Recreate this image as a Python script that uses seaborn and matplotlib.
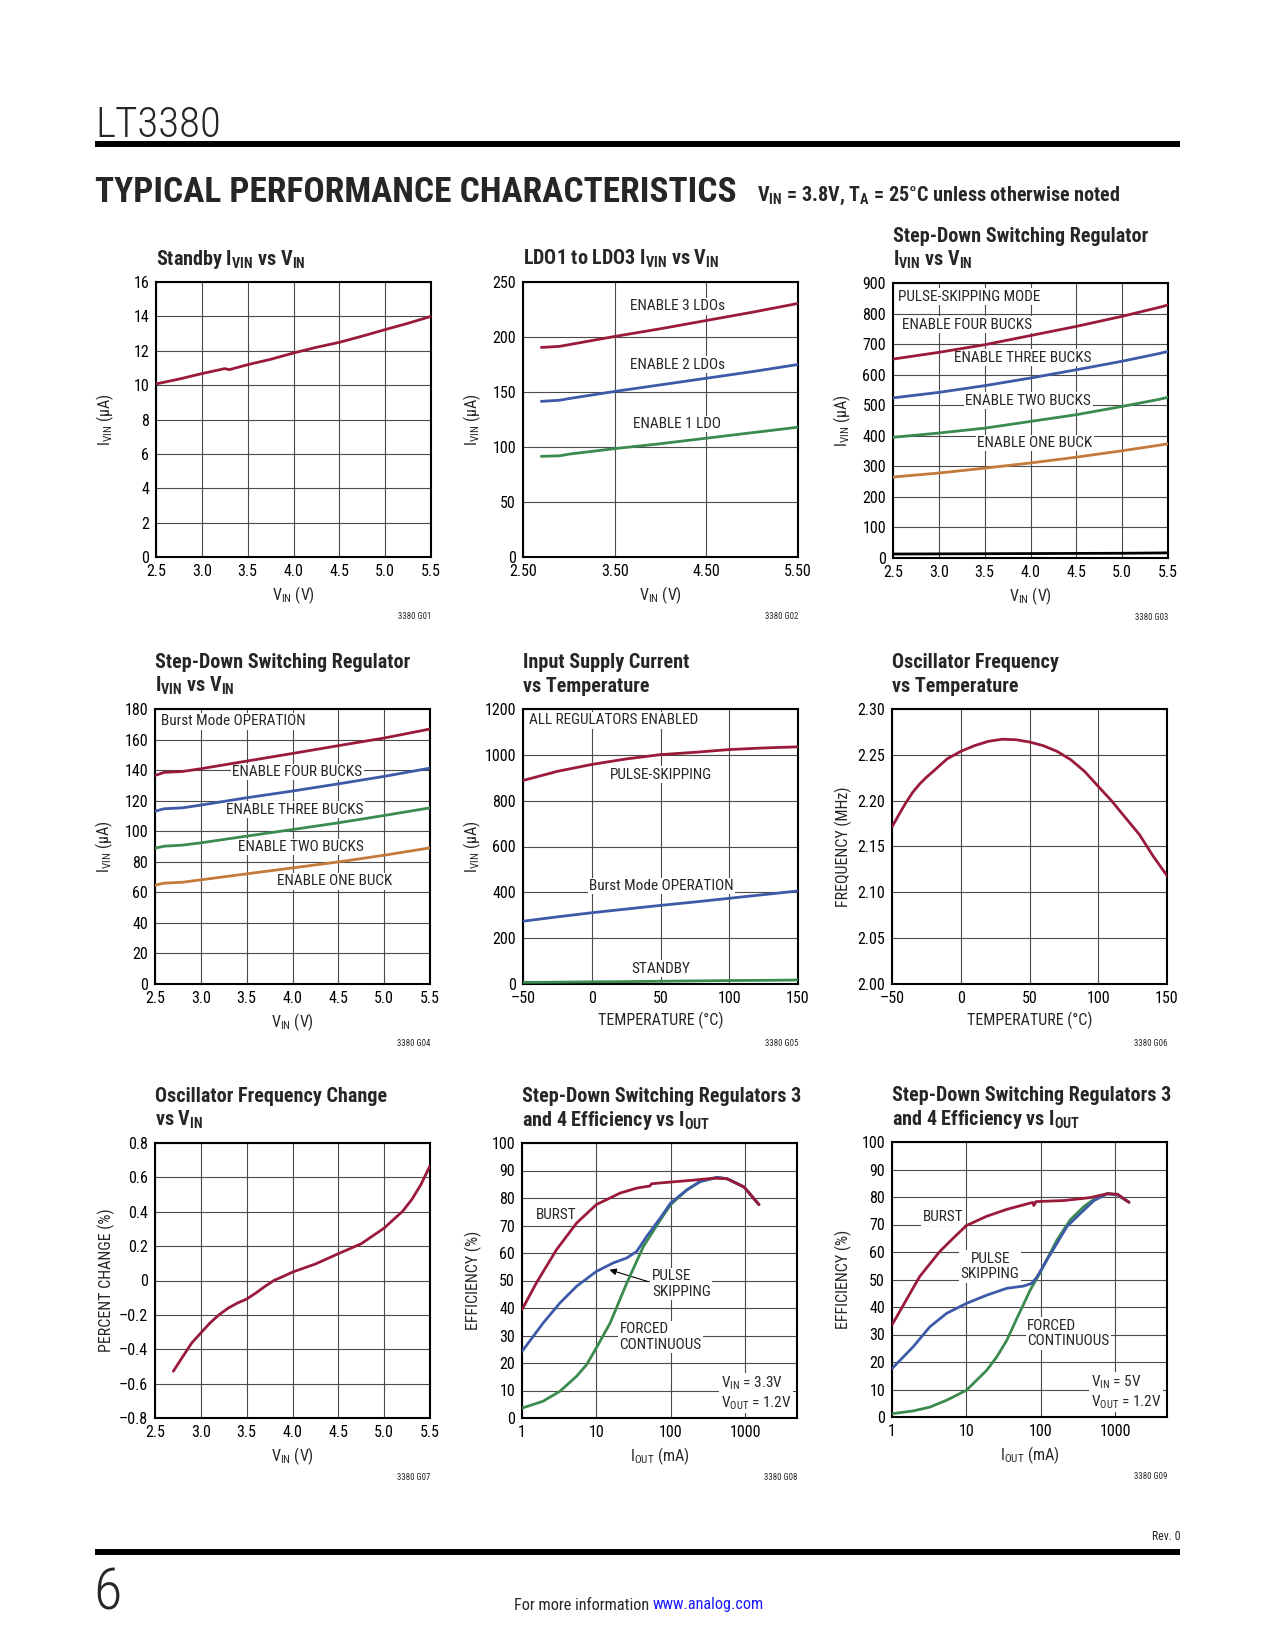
import numpy as np
import matplotlib
matplotlib.use('Agg')
import matplotlib.pyplot as plt
import seaborn as sns
from matplotlib.patches import Rectangle

# ---- data ----
# G01 standby current
g01_vin = [2.5, 2.75, 3.0, 3.25, 3.3, 3.5, 3.75, 4.0, 4.25, 4.5, 4.75, 5.0, 5.25, 5.5]
g01_ivin = [10.07, 10.35, 10.67, 10.96, 10.9, 11.19, 11.5, 11.87, 12.2, 12.49, 12.85, 13.23, 13.6, 14.0]

# G02 LDO current
g02_vin = [2.7, 2.9, 3.0, 3.5, 4.0, 4.5, 5.0, 5.5]
g02_three = [190.5, 191.5, 193, 200.5, 207.5, 215, 222.5, 230.5]
g02_two = [141.5, 142.5, 144, 150.5, 156.5, 162.5, 168.5, 175]
g02_one = [91.5, 92, 93.5, 98.5, 103, 108, 113, 118]

# G03 buck current, pulse-skipping
g03_vin = [2.5, 3.0, 3.5, 4.0, 4.5, 5.0, 5.4, 5.5]
g03_four = [651, 673, 698, 728, 758, 791, 820, 828]
g03_three = [524, 542, 564, 589, 616, 644, 669, 676]
g03_two = [395, 409, 425, 447, 469, 496, 519, 526]
g03_one = [265, 278, 294, 311, 330, 351, 369, 374]
g03_off = [13, 13.5, 14, 14.5, 15, 15.5, 16.5, 17]

# G04 buck current, Burst Mode
g04_vin = [2.5, 2.6, 2.8, 3.0, 3.5, 4.0, 4.5, 5.0, 5.5]
g04_four = [136.5, 138.5, 139.1, 140.9, 145.9, 150.9, 156, 161, 166.9]
g04_three = [113.1, 114.7, 115.3, 117.1, 121.9, 126.3, 131, 135.9, 141.3]
g04_two = [88.9, 90.2, 90.9, 92.4, 96.8, 101.1, 105.5, 110.3, 115.3]
g04_one = [64.7, 66, 66.6, 68.2, 72.1, 76, 79.9, 84.3, 89.1]

# G05 input supply current vs temperature
g05_temp = [-50, -25, 0, 25, 50, 75, 100, 125, 150]
g05_pulse = [888, 928, 958, 982, 1001, 1011, 1023, 1030, 1035]
g05_burst = [274, 293, 311, 327, 343, 358, 374, 390, 406]
g05_standby = [7, 8, 9.5, 10.5, 12, 13.5, 15, 16, 17.5]

# G06 oscillator frequency vs temperature
g06_temp = [-50, -45, -40, -35, -30, -25, -20, -10, 0, 10, 20, 30, 40, 50, 60, 70, 80, 90, 100, 110, 120, 130, 140, 150]
g06_freq = [2.1713, 2.1847, 2.1975, 2.209, 2.218, 2.2255, 2.232, 2.2455, 2.2538, 2.26, 2.2647, 2.267,
            2.2665, 2.264, 2.26, 2.2538, 2.2447, 2.232, 2.2156, 2.1993, 2.181, 2.1629, 2.1393, 2.1182]

# G07 oscillator frequency change vs VIN
g07_vin = [2.7, 2.8, 2.9, 3.0, 3.1, 3.2, 3.3, 3.4, 3.5, 3.6, 3.7, 3.8, 3.9, 4.0, 4.25, 4.5, 4.75, 5.0, 5.1, 5.2, 5.3, 5.4, 5.5]
g07_change = [-0.528, -0.445, -0.364, -0.305, -0.247, -0.199, -0.16, -0.131, -0.108, -0.073, -0.034, 0.001,
              0.024, 0.049, 0.096, 0.156, 0.214, 0.305, 0.354, 0.402, 0.47, 0.557, 0.668]

# G08 efficiency, VIN = 3.3V
g08_burst_i = [1.0, 1.56, 2.91, 5.43, 10, 20.9, 35, 47.7, 52, 55.7, 100, 204, 380, 575, 970, 1540]
g08_burst_e = [39.4, 49.1, 61.2, 70.9, 77.6, 81.8, 83.6, 84.2, 84.3, 85.2, 85.8, 86.5, 87.2, 87.0, 84.0, 77.6]
g08_pulse_i = [1.0, 1.92, 3.23, 5.43, 10, 16.9, 25.7, 35, 47.7, 72.4, 100, 166, 250, 420, 575, 970, 1540]
g08_pulse_e = [24.2, 34.5, 41.8, 47.9, 53.3, 56.4, 58.2, 60.6, 66.1, 72.7, 78.2, 83, 86, 87.5, 87.0, 84.0, 77.6]
g08_forced_i = [1.0, 1.92, 3.23, 5.43, 7.4, 10, 15.3, 25.7, 43, 72.4, 100, 166, 250, 420, 575, 970, 1540]
g08_forced_e = [3.6, 6.1, 9.7, 15.2, 19.4, 25.5, 34.5, 49.1, 62.4, 72, 77.6, 83, 86, 87.5, 87.0, 84.0, 77.6]

# G09 efficiency, VIN = 5V
g09_burst_i = [1.0, 1.56, 2.36, 4.4, 6.7, 10, 18.8, 35, 72.4, 78, 81, 86, 100, 204, 469, 790, 1080, 1540]
g09_burst_e = [33.5, 42.6, 51.1, 60.2, 65.1, 69.6, 73, 75.5, 77.8, 78.0, 76.9, 78.3, 78.4, 78.7, 79.8, 81.2, 81.0, 78.1]
g09_pulse_i = [1.0, 1.92, 3.23, 5.43, 10, 18.8, 35, 58.6, 76, 89.5, 121, 166, 226, 344, 520, 790, 1080, 1540]
g09_pulse_e = [17.6, 25.5, 32.8, 37.7, 41.3, 44.3, 46.8, 47.6, 48.6, 51, 57.1, 63.2, 69.3, 74.1, 78.7, 81.2, 80.8, 78.1]
g09_forced_i = [1.0, 1.92, 3.23, 5.43, 10, 18.8, 25.7, 35, 47.7, 72.4, 100, 166, 250, 380, 575, 790, 1080, 1540]
g09_forced_e = [1.2, 2.2, 3.6, 6.1, 9.7, 17, 21.9, 27.9, 35.8, 46.2, 52.9, 64.4, 71.7, 76.5, 80, 81.2, 80.8, 78.1]

# tick labels
vin_ticks = [2.5, 3.0, 3.5, 4.0, 4.5, 5.0, 5.5]
vin_labels = ['2.5', '3.0', '3.5', '4.0', '4.5', '5.0', '5.5']
ldo_ticks = [2.5, 3.5, 4.5, 5.5]
ldo_labels = ['2.50', '3.50', '4.50', '5.50']
temp_ticks = [-50, 0, 50, 100, 150]
temp_labels = ['\u201350', '0', '50', '100', '150']
freq_ticks = [2.00, 2.05, 2.10, 2.15, 2.20, 2.25, 2.30]
freq_labels = ['2.00', '2.05', '2.10', '2.15', '2.20', '2.25', '2.30']
pct_ticks = [-0.8, -0.6, -0.4, -0.2, 0, 0.2, 0.4, 0.6, 0.8]
pct_labels = ['\u20130.8', '\u20130.6', '\u20130.4', '\u20130.2', '0', '0.2', '0.4', '0.6', '0.8']
iout_ticks = [1, 10, 100, 1000]
iout_labels = ['1', '10', '100', '1000']

RED = '#9a1a3c'
BLUE = '#3d5aa8'
GREEN = '#3b8a4e'
ORANGE = '#c47a3a'

sns.set_style('white')
plt.rcParams['font.family'] = ['Roboto Condensed', 'Liberation Sans Narrow', 'Liberation Sans', 'DejaVu Sans']

W, H = 1275, 1650
fig = plt.figure(figsize=(W / 100, H / 100), dpi=100)

TICK = 11.5
LAB = 11.5
INNER = 11


def px_axes(left, top, size=275):
    return fig.add_axes([left / W, 1 - (top + size) / H, size / W, size / H])


def px_text(x, y, s, **kw):
    fig.text(x / W, 1 - y / H, s, **kw)


def dress(ax, title, code, xlim, ylim, xt, xtl, yt, ytl, xlabel, ylabel, log=False):
    if log:
        ax.set_xscale('log')
    ax.set_xlim(xlim)
    ax.set_ylim(ylim)
    ax.set_xticks(xt)
    ax.set_xticklabels(xtl)
    ax.set_yticks(yt)
    ax.set_yticklabels(ytl)
    ax.minorticks_off()
    ax.grid(True, color='#4a4a4a', lw=0.8)
    ax.set_axisbelow(True)
    for sp in ax.spines.values():
        sp.set_visible(True)
        sp.set_color('black')
        sp.set_linewidth(1.5)
    ax.tick_params(length=0, labelsize=TICK, pad=5, colors='black')
    ax.set_xlabel(xlabel, fontsize=LAB)
    ax.set_ylabel(ylabel, fontsize=LAB)
    ax.xaxis.set_label_coords(0.5, -0.1)
    ax.yaxis.set_label_coords(-0.145, 0.5)
    ax.text(1, -0.218, code, transform=ax.transAxes, ha='right', va='center', fontsize=6.3)
    # title lines, last line baseline ~17px above the frame
    for k, line in enumerate(reversed(title)):
        ax.text(0, 1 + (17 + 24 * k) / 275, line, transform=ax.transAxes, ha='left',
                va='baseline', fontsize=14.5, fontweight='bold')


def label(ax, x, y, s, ha='left'):
    ax.text(x, y, s, ha=ha, va='center', fontsize=INNER, linespacing=1.15, zorder=3,
            bbox=dict(facecolor='white', edgecolor='none', pad=1.0))


def curve(ax, x, y, color):
    sns.lineplot(x=x, y=y, color=color, lw=2.0, ax=ax, zorder=4)


VIN = 'V$_{\\mathregular{IN}}$ (V)'
IVIN = 'I$_{\\mathregular{VIN}}$ (\u00b5A)'
IVIN_VIN = 'I$_{\\mathregular{VIN}}$ vs V$_{\\mathregular{IN}}$'
TEMP = 'TEMPERATURE (\u00b0C)'
IOUT = 'I$_{\\mathregular{OUT}}$ (mA)'

# ---- page furniture ----
px_text(95, 137, 'LT3380', fontsize=31, fontweight='light', va='baseline', ha='left')
fig.add_artist(Rectangle((95 / W, 1 - 147 / H), 1085 / W, 6 / H, transform=fig.transFigure,
                         color='black', lw=0))
px_text(95, 202, 'TYPICAL PERFORMANCE CHARACTERISTICS', fontsize=25.5, fontweight='heavy',
        va='baseline', ha='left')
px_text(757, 201, 'V$_{\\mathregular{IN}}$ = 3.8V, T$_{\\mathregular{A}}$ = 25\u00b0C unless otherwise noted',
        fontsize=14.5, fontweight='bold', va='baseline', ha='left')
px_text(1180, 1537, 'Rev. 0', fontsize=8.5, va='center', ha='right')
fig.add_artist(Rectangle((95 / W, 1 - 1555 / H), 1085 / W, 6 / H, transform=fig.transFigure,
                         color='black', lw=0))
px_text(93, 1609, '6', fontsize=42, fontweight='light', va='baseline', ha='left')
px_text(649, 1605, 'For more information', fontsize=11.7, va='center', ha='right')
px_text(653, 1605, 'www.analog.com', fontsize=11.7, va='center', ha='left', color='#1a1aff')

# ---- G01 ----
ax = px_axes(156, 282)
curve(ax, g01_vin, g01_ivin, RED)
dress(ax, ['Standby ' + IVIN_VIN], '3380 G01', (2.5, 5.5), (0, 16), vin_ticks, vin_labels,
      range(0, 17, 2), [str(v) for v in range(0, 17, 2)], VIN, IVIN)

# ---- G02 ----
ax = px_axes(523, 282)
curve(ax, g02_vin, g02_three, RED)
curve(ax, g02_vin, g02_two, BLUE)
curve(ax, g02_vin, g02_one, GREEN)
dress(ax, ['LDO1 to LDO3 ' + IVIN_VIN], '3380 G02', (2.5, 5.5), (0, 250), ldo_ticks, ldo_labels,
      range(0, 251, 50), [str(v) for v in range(0, 251, 50)], VIN, IVIN)
label(ax, 4.18, 228, 'ENABLE 3 LDOs', 'center')
label(ax, 4.18, 175, 'ENABLE 2 LDOs', 'center')
label(ax, 4.18, 121, 'ENABLE 1 LDO', 'center')

# ---- G03 ----
ax = px_axes(893, 283)
curve(ax, g03_vin, g03_four, RED)
curve(ax, g03_vin, g03_three, BLUE)
curve(ax, g03_vin, g03_two, GREEN)
curve(ax, g03_vin, g03_one, ORANGE)
curve(ax, g03_vin, g03_off, 'black')
dress(ax, ['Step-Down Switching Regulator', IVIN_VIN], '3380 G03', (2.5, 5.5), (0, 900),
      vin_ticks, vin_labels, range(0, 901, 100), [str(v) for v in range(0, 901, 100)], VIN, IVIN)
label(ax, 2.56, 855, 'PULSE-SKIPPING MODE')
label(ax, 2.6, 764, 'ENABLE FOUR BUCKS')
label(ax, 3.17, 655, 'ENABLE THREE BUCKS')
label(ax, 3.29, 515, 'ENABLE TWO BUCKS')
label(ax, 3.42, 376, 'ENABLE ONE BUCK')

# ---- G04 ----
ax = px_axes(155, 709)
curve(ax, g04_vin, g04_four, RED)
curve(ax, g04_vin, g04_three, BLUE)
curve(ax, g04_vin, g04_two, GREEN)
curve(ax, g04_vin, g04_one, ORANGE)
dress(ax, ['Step-Down Switching Regulator', IVIN_VIN], '3380 G04', (2.5, 5.5), (0, 180),
      vin_ticks, vin_labels, range(0, 181, 20), [str(v) for v in range(0, 181, 20)], VIN, IVIN)
label(ax, 2.56, 172, 'Burst Mode OPERATION')
label(ax, 3.34, 138.7, 'ENABLE FOUR BUCKS')
label(ax, 3.28, 114.2, 'ENABLE THREE BUCKS')
label(ax, 3.41, 89.6, 'ENABLE TWO BUCKS')
label(ax, 3.83, 67.3, 'ENABLE ONE BUCK')

# ---- G05 ----
ax = px_axes(523, 709)
curve(ax, g05_temp, g05_pulse, RED)
curve(ax, g05_temp, g05_burst, BLUE)
curve(ax, g05_temp, g05_standby, GREEN)
dress(ax, ['Input Supply Current', 'vs Temperature'], '3380 G05', (-50, 150), (0, 1200),
      temp_ticks, temp_labels, range(0, 1201, 200), [str(v) for v in range(0, 1201, 200)],
      TEMP, IVIN)
label(ax, -45.4, 1150, 'ALL REGULATORS ENABLED')
label(ax, 50.5, 914, 'PULSE-SKIPPING', 'center')
label(ax, 50.5, 428, 'Burst Mode OPERATION', 'center')
label(ax, 50.5, 66, 'STANDBY', 'center')

# ---- G06 ----
ax = px_axes(892, 709)
curve(ax, g06_temp, g06_freq, RED)
dress(ax, ['Oscillator Frequency', 'vs Temperature'], '3380 G06', (-50, 150), (2.0, 2.3),
      temp_ticks, temp_labels, freq_ticks, freq_labels, TEMP, 'FREQUENCY (MHz)')

# ---- G07 ----
ax = px_axes(155, 1143)
curve(ax, g07_vin, g07_change, RED)
dress(ax, ['Oscillator Frequency Change', 'vs V$_{\\mathregular{IN}}$'], '3380 G07', (2.5, 5.5),
      (-0.8, 0.8), vin_ticks, vin_labels, pct_ticks, pct_labels, VIN, 'PERCENT CHANGE (%)')

# ---- G08 ----
eff_ticks = range(0, 101, 10)
eff_labels = [str(v) for v in eff_ticks]
ax = px_axes(522, 1143)
curve(ax, g08_forced_i, g08_forced_e, GREEN)
curve(ax, g08_pulse_i, g08_pulse_e, BLUE)
curve(ax, g08_burst_i, g08_burst_e, RED)
dress(ax, ['Step-Down Switching Regulators 3', 'and 4 Efficiency vs I$_{\\mathregular{OUT}}$'],
      '3380 G08', (1, 5000), (0, 100), iout_ticks, iout_labels, eff_ticks, eff_labels,
      IOUT, 'EFFICIENCY (%)', log=True)
label(ax, 1.56, 73.9, 'BURST')
label(ax, 55.8, 48.8, 'PULSE\nSKIPPING')
label(ax, 20.5, 29.5, 'FORCED\nCONTINUOUS')
label(ax, 469, 9.1, 'V$_{\\mathregular{IN}}$ = 3.3V\nV$_{\\mathregular{OUT}}$ = 1.2V')
ax.annotate('', xy=(13.8, 54.2), xytext=(54, 49.3),
            arrowprops=dict(arrowstyle='-|>', color='black', lw=0.8, mutation_scale=10))

# ---- G09 ----
ax = px_axes(892, 1142)
curve(ax, g09_forced_i, g09_forced_e, GREEN)
curve(ax, g09_pulse_i, g09_pulse_e, BLUE)
curve(ax, g09_burst_i, g09_burst_e, RED)
dress(ax, ['Step-Down Switching Regulators 3', 'and 4 Efficiency vs I$_{\\mathregular{OUT}}$'],
      '3380 G09', (1, 5000), (0, 100), iout_ticks, iout_labels, eff_ticks, eff_labels,
      IOUT, 'EFFICIENCY (%)', log=True)
label(ax, 2.57, 72.6, 'BURST')
label(ax, 20.9, 54.7, 'PULSE\nSKIPPING', 'center')
label(ax, 65.2, 30.4, 'FORCED\nCONTINUOUS')
label(ax, 469, 9.0, 'V$_{\\mathregular{IN}}$ = 5V\nV$_{\\mathregular{OUT}}$ = 1.2V')

fig.savefig('out.png', dpi=100, facecolor='white')
